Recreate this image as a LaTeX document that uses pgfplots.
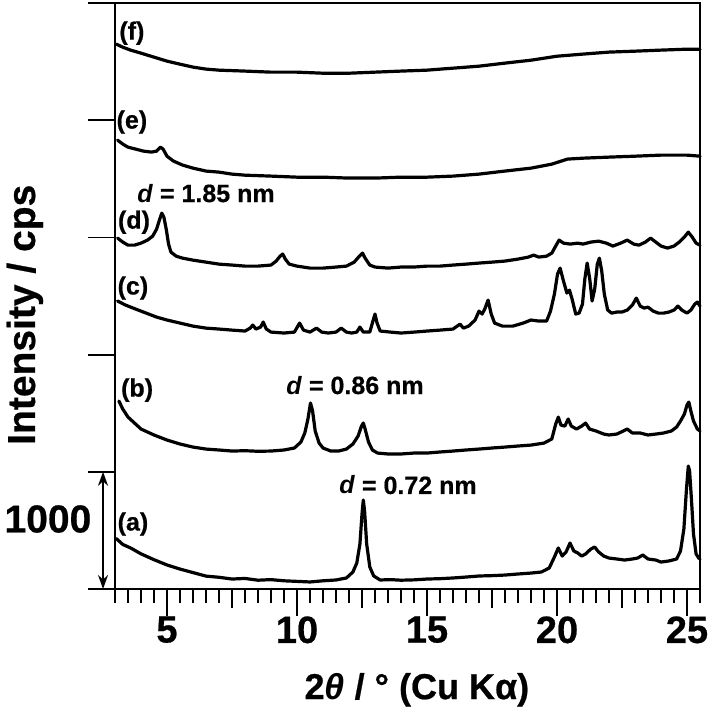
\documentclass[border=0pt]{standalone}
\usepackage{fontspec}
\setmainfont{Liberation Sans}[BoldFeatures={FakeBold=0.6}]
\usepackage{pgfplots}
\usetikzlibrary{arrows.meta}
\pgfplotsset{compat=1.18}
\pgfplotstableread{
x y
3.05 430
3.3 380
3.6 350
4.0 300
4.5 250
5.0 205
5.5 170
6.0 140
6.5 110
7.0 100
7.5 85
8.0 90
8.5 75
9.0 80
9.5 70
10.0 65
10.5 60
11.0 70
11.5 77
11.9 94
12.15 145
12.3 222
12.42 384
12.5 640
12.55 759
12.6 665
12.68 384
12.8 188
12.95 111
13.2 77
13.6 80
14.0 75
14.5 78
15.0 85
15.5 88
16.0 94
16.5 102
17.0 111
17.5 114
18.0 119
18.5 128
19.0 136
19.4 145
19.7 179
19.9 273
20.05 350
20.2 281
20.35 316
20.5 392
20.65 324
20.8 307
20.95 281
21.1 299
21.3 341
21.45 358
21.6 316
21.8 281
22.0 264
22.3 256
22.6 247
22.9 256
23.1 264
23.3 290
23.5 256
23.8 247
24.0 230
24.3 239
24.6 256
24.75 324
24.88 512
24.98 853
25.05 1049
25.1 1007
25.17 768
25.25 469
25.35 299
25.45 264
25.5 256
}\tA
\pgfplotstableread{
x y
3.15 1604
3.3 1535
3.5 1467
3.75 1416
4.0 1365
4.5 1314
5.0 1271
5.5 1237
6.0 1211
6.5 1194
7.0 1186
7.5 1177
8.0 1180
8.5 1175
9.0 1177
9.5 1186
9.9 1203
10.15 1254
10.3 1331
10.42 1450
10.52 1587
10.6 1518
10.7 1348
10.85 1245
11.0 1203
11.3 1177
11.6 1177
11.9 1194
12.15 1237
12.35 1305
12.48 1390
12.55 1416
12.62 1365
12.75 1254
12.9 1186
13.1 1160
13.5 1152
14.0 1152
14.5 1160
15.0 1160
15.5 1169
16.0 1177
16.5 1186
17.0 1194
17.5 1203
18.0 1211
18.5 1220
19.0 1228
19.5 1245
19.8 1280
19.95 1407
20.05 1467
20.15 1399
20.3 1390
20.43 1450
20.55 1390
20.75 1365
20.95 1390
21.1 1416
21.25 1365
21.5 1348
21.8 1322
22.0 1314
22.3 1322
22.55 1348
22.7 1365
22.9 1331
23.2 1331
23.5 1314
23.8 1322
24.1 1331
24.4 1348
24.6 1382
24.75 1433
24.9 1493
25.0 1570
25.07 1595
25.15 1518
25.25 1433
25.4 1365
25.5 1348
}\tB
\pgfplotstableread{
x y
3.1 2457
3.4 2423
3.8 2388
4.2 2354
4.6 2320
5.0 2295
5.5 2269
6.0 2243
6.5 2226
7.0 2218
7.5 2209
8.0 2201
8.2 2226
8.3 2252
8.42 2218
8.6 2235
8.7 2278
8.82 2218
9.0 2192
9.5 2184
9.9 2192
10.1 2269
10.25 2209
10.5 2192
10.75 2226
10.95 2192
11.2 2184
11.5 2192
11.7 2226
11.9 2192
12.1 2184
12.3 2192
12.42 2235
12.55 2192
12.8 2192
12.92 2286
13.0 2346
13.08 2269
13.2 2201
13.6 2192
14.0 2184
14.5 2192
15.0 2201
15.5 2209
16.0 2218
16.27 2260
16.4 2226
16.6 2243
16.85 2295
17.0 2371
17.12 2346
17.22 2388
17.35 2465
17.47 2346
17.6 2269
17.9 2243
18.3 2243
18.7 2269
19.0 2295
19.3 2286
19.6 2286
19.75 2371
19.9 2516
20.02 2687
20.12 2738
20.25 2627
20.38 2525
20.48 2550
20.58 2474
20.72 2346
20.85 2354
20.98 2431
21.07 2644
21.16 2781
21.26 2644
21.35 2457
21.45 2559
21.55 2772
21.63 2823
21.72 2713
21.82 2516
21.95 2380
22.1 2354
22.3 2363
22.5 2363
22.7 2380
22.9 2423
23.05 2482
23.2 2414
23.35 2397
23.5 2405
23.7 2371
23.9 2354
24.1 2354
24.3 2363
24.5 2380
24.65 2414
24.8 2380
25.0 2354
25.15 2380
25.3 2431
25.4 2448
25.5 2414
}\tC
\pgfplotstableread{
x y
3.1 2994
3.3 2960
3.5 2934
3.75 2934
4.0 2951
4.25 2977
4.45 3011
4.6 3071
4.72 3156
4.8 3207
4.88 3173
4.97 3071
5.06 2943
5.15 2875
5.35 2840
5.6 2823
6.0 2806
6.5 2789
7.0 2772
7.5 2764
8.0 2755
8.5 2755
9.0 2764
9.2 2798
9.35 2840
9.45 2858
9.55 2815
9.7 2772
10.0 2755
10.5 2738
11.0 2738
11.5 2747
11.9 2755
12.2 2789
12.4 2840
12.52 2866
12.62 2823
12.8 2764
13.0 2747
13.5 2738
14.0 2747
14.5 2747
15.0 2755
15.5 2755
16.0 2764
16.5 2772
17.0 2781
17.5 2789
18.0 2798
18.5 2815
18.9 2832
19.1 2849
19.3 2832
19.6 2840
19.8 2866
19.95 2926
20.08 2977
20.25 2951
20.5 2943
20.8 2951
21.0 2943
21.3 2960
21.6 2968
21.9 2951
22.15 2926
22.45 2951
22.7 2977
22.95 2943
23.15 2934
23.4 2960
23.6 2994
23.8 2960
24.0 2926
24.25 2909
24.5 2926
24.7 2960
24.9 3003
25.05 3045
25.2 3003
25.35 2951
25.5 2934
}\tD
\pgfplotstableread{
x y
3.1 3830
3.3 3796
3.5 3770
3.8 3753
4.1 3736
4.4 3728
4.6 3736
4.75 3770
4.85 3753
5.0 3693
5.25 3651
5.6 3617
6.0 3591
6.5 3566
7.0 3557
7.5 3540
8.0 3531
9.0 3523
10.0 3514
11.0 3514
12.0 3506
13.0 3506
14.0 3514
15.0 3514
16.0 3523
17.0 3540
18.0 3566
19.0 3591
19.8 3625
20.4 3668
21.0 3676
22.0 3685
23.0 3693
24.0 3702
25.0 3702
25.5 3693
}\tE
\pgfplotstableread{
x y
3.05 4649
3.3 4623
3.6 4598
4.0 4572
4.5 4538
5.0 4504
5.5 4478
6.0 4453
6.5 4436
7.0 4427
8.0 4419
9.0 4410
10.0 4410
11.0 4401
12.0 4401
13.0 4410
14.0 4419
15.0 4427
16.0 4444
17.0 4461
18.0 4487
19.0 4512
20.0 4546
21.0 4564
22.0 4581
23.0 4589
24.0 4598
25.0 4606
25.5 4606
}\tF
\begin{document}
\begin{tikzpicture}[trace/.style={black, solid, line width=1.6pt, line join=round, line cap=round, mark=none}]
\useasboundingbox (-57.5pt,-65pt) rectangle (299.5pt,294.5pt);
\begin{axis}[
  at={(0,0)}, anchor=south west,
  width=292.5pt, height=293pt, scale only axis,
  xmin=3, xmax=25.5, ymin=0, ymax=5000,
  clip=false,
  axis line style={line width=1pt},
  tick style={line width=0.9pt, black},
  tick align=outside,
  tick pos=left,
  xtick={5,10,15,20,25},
  minor xtick={3,3.5,...,25.5},
  extra x ticks={7.5,12.5,17.5,22.5},
  extra x tick labels={},
  extra x tick style={major tick length=9.5pt},
  major tick length=13.5pt,
  minor tick length=7pt,
  ytick={0,1000,2000,3000,4000,5000},
  yticklabels={},
  /pgf/number format/assume math mode=true,
  xticklabel style={font=\fontsize{19pt}{19pt}\selectfont\bfseries, anchor=north, inner sep=0pt},
  xlabel={2\textit{θ} / ° (Cu Kα)},
  xlabel style={font=\fontsize{18pt}{18pt}\selectfont\bfseries, at={(axis description cs:0.516,-0.172)}, anchor=center, inner sep=0pt},
  ylabel={Intensity / cps},
  ylabel style={font=\fontsize{19.5pt}{19.5pt}\selectfont\bfseries, at={(axis description cs:-0.154,0.468)}, anchor=center, rotate=0, inner sep=0pt},
]
\addplot[trace] table[x=x,y=y] {\tA};
\addplot[trace] table[x=x,y=y] {\tB};
\addplot[trace] table[x=x,y=y] {\tC};
\addplot[trace] table[x=x,y=y] {\tD};
\addplot[trace] table[x=x,y=y] {\tE};
\addplot[trace] table[x=x,y=y] {\tF};
\begin{scope}[every node/.style={font=\fontsize{12.5pt}{12.5pt}\selectfont\bfseries, inner sep=0pt}]
\node at (axis cs:3.69,554) {(a)};
\node at (axis cs:3.85,1697) {(b)};
\node at (axis cs:3.69,2568) {(c)};
\node at (axis cs:3.73,3130) {(d)};
\node at (axis cs:3.65,3984) {(e)};
\node at (axis cs:3.65,4743) {(f)};
\node at (axis cs:6.5,3378) {\textit{d} = 1.85 nm};
\node at (axis cs:12.23,1740) {\textit{d} = 0.86 nm};
\node at (axis cs:14.27,887) {\textit{d} = 0.72 nm};
\end{scope}
\node[font=\fontsize{19.5pt}{19.5pt}\selectfont\bfseries, inner sep=0pt] at (axis cs:0.42,597) {1000};
\draw[line width=0.9pt, {Stealth[length=7pt,width=5pt]}-{Stealth[length=7pt,width=5pt]}] (axis cs:2.54,0) -- (axis cs:2.54,1000);
\end{axis}
\end{tikzpicture}
\end{document}
